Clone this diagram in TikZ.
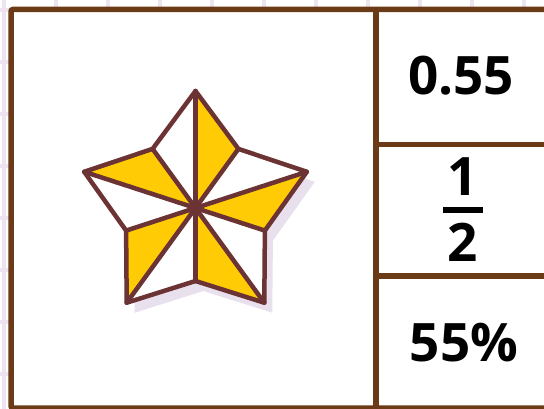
\documentclass[tikz,border=0pt]{standalone}
\usepackage{fontspec}
\setmainfont{Open Sans}
\usetikzlibrary{calc}
\definecolor{framec}{HTML}{6B3A17}
\definecolor{starc}{HTML}{6B3333}
\definecolor{gold}{HTML}{FFCB05}
\definecolor{grid}{HTML}{EEE4F1}
\definecolor{shadow}{HTML}{E9E0EE}
\tikzset{
  frameline/.style={draw=framec, line width=5.5pt},
  starline/.style={draw=starc, line width=4.5pt, line join=round, line cap=round},
  numtxt/.style={font=\fontsize{53}{60}\selectfont\bfseries, text=black, inner sep=0pt, anchor=center},
}
\begin{document}
\begin{tikzpicture}[x=1pt, y=-1pt]
\useasboundingbox (0,0) rectangle (544,409);
\clip (0,0) rectangle (544,409);
\fill[white] (0,0) rectangle (544,409);
% grid
\foreach \gx in {3.5,55.5,...,560} \draw[grid, line width=4pt] (\gx,0) -- (\gx,409);
\foreach \gy in {10,62,...,420} \draw[grid, line width=4pt] (0,\gy) -- (544,\gy);
% frame
\fill[white] (11,9.5) rectangle (550,408);
\draw[frameline, rounded corners=2pt] (550,9.5) -- (11,9.5) -- (11,408) -- (550,408);
\draw[frameline] (376,9.5) -- (376,408);
\draw[frameline] (376,144.5) -- (550,144.5);
\draw[frameline] (376,276) -- (550,276);
% star points
\coordinate (C) at (195.5,208);
\coordinate (O1) at (195.5,91);
\coordinate (O2) at (306.8,171.8);
\coordinate (O3) at (264.3,302.7);
\coordinate (O4) at (126.7,302.7);
\coordinate (O5) at (84.2,171.8);
\coordinate (I1) at (238.4,148.9);
\coordinate (I2) at (264.9,230.6);
\coordinate (I3) at (195.5,281);
\coordinate (I4) at (126.1,230.6);
\coordinate (I5) at (152.6,148.9);
% shadow
\fill[shadow] ($(O1)+(8,10)$) -- ($(I1)+(8,10)$) -- ($(O2)+(8,10)$) -- ($(I2)+(8,10)$) -- ($(O3)+(8,10)$) -- ($(I3)+(8,10)$) -- ($(O4)+(8,10)$) -- ($(I4)+(8,10)$) -- ($(O5)+(8,10)$) -- ($(I5)+(8,10)$) -- cycle;
% star fill
\fill[white] (O1) -- (I1) -- (O2) -- (I2) -- (O3) -- (I3) -- (O4) -- (I4) -- (O5) -- (I5) -- cycle;
\fill[gold] (C) -- (O1) -- (I1) -- cycle;
\fill[gold] (C) -- (O2) -- (I2) -- cycle;
\fill[gold] (C) -- (O3) -- (I3) -- cycle;
\fill[gold] (C) -- (O4) -- (I4) -- cycle;
\fill[gold] (C) -- (O5) -- (I5) -- cycle;
\foreach \p in {O1,O2,O3,O4,O5,I1,I2,I3,I4,I5} \draw[starline] (C) -- (\p);
\draw[starline] (O1) -- (I1) -- (O2) -- (I2) -- (O3) -- (I3) -- (O4) -- (I4) -- (O5) -- (I5) -- cycle;
\fill[starc] (C) circle (3.5pt);
% texts
\node[numtxt] (dec) at (461,76) {0.55};
\node[numtxt] (num) at (463,177) {1};
\node[numtxt] (den) at (463,242) {2};
\coordinate (barL) at (443,210);
\coordinate (barR) at (483,210);
\draw[black, line width=6.5pt] (barL) -- (barR);
\node[numtxt] (pct) at (464,343) {55\%};
\end{tikzpicture}
\end{document}
